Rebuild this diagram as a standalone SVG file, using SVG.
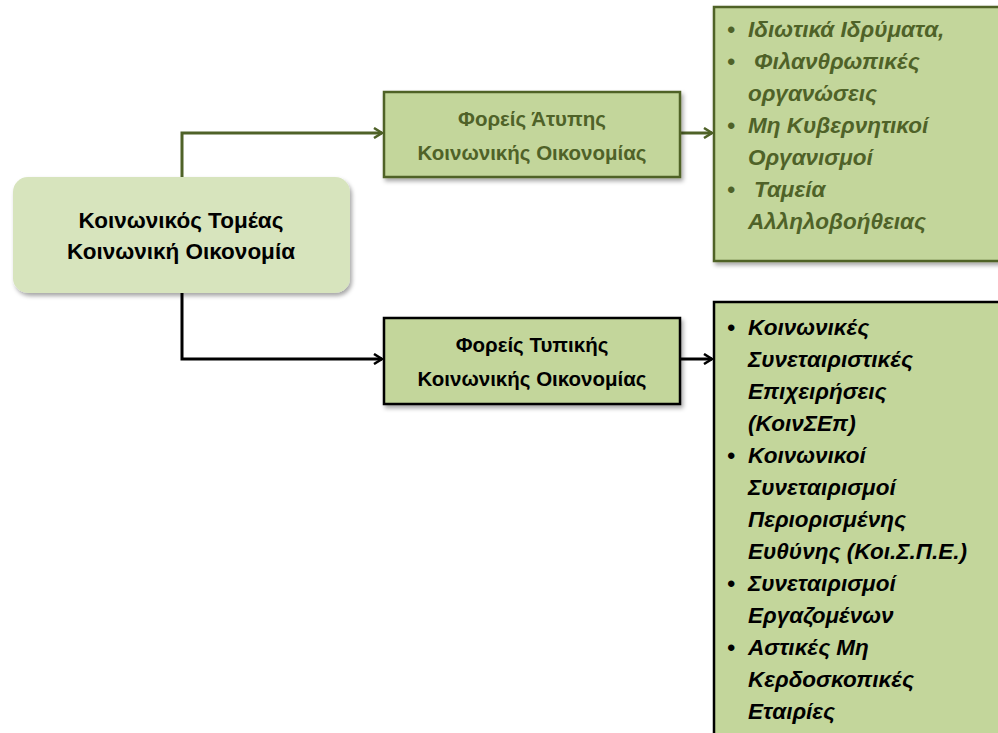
<svg xmlns="http://www.w3.org/2000/svg" width="998" height="733" viewBox="0 0 998 733">
<style>
.t{font-family:"Liberation Sans",Arial,sans-serif;font-weight:bold;}
.c{text-anchor:middle;font-size:20.5px;}
.r{font-size:22.5px;}
.l{font-size:22.5px;font-style:italic;}
.g{fill:#4f6228;}
.k{fill:#000;}
.box{fill:#c3d69b;stroke-width:2.5;}
</style>
<defs>
<filter id="sh" x="-10%" y="-10%" width="125%" height="130%">
<feDropShadow dx="2" dy="3" stdDeviation="2" flood-color="#000" flood-opacity="0.35"/>
</filter>
<marker id="ag" markerWidth="12" markerHeight="12" refX="10" refY="6" orient="auto" markerUnits="userSpaceOnUse">
<polyline points="2,1 10,6 2,11" fill="none" stroke="#4f6228" stroke-width="2.5"/>
</marker>
<marker id="ak" markerWidth="12" markerHeight="12" refX="10" refY="6" orient="auto" markerUnits="userSpaceOnUse">
<polyline points="2,1 10,6 2,11" fill="none" stroke="#000" stroke-width="2.5"/>
</marker>
</defs>
<rect width="998" height="733" fill="#fff"/>
<g id="connectors" fill="none" stroke-width="3">
<polyline points="182,177 182,133 382,133" stroke="#4f6228" marker-end="url(#ag)"/>
<line x1="681" y1="133" x2="712" y2="133" stroke="#4f6228" marker-end="url(#ag)"/>
<polyline points="182,293 182,359 382,359" stroke="#000" marker-end="url(#ak)"/>
<line x1="681" y1="359" x2="712" y2="359" stroke="#000" marker-end="url(#ak)"/>
</g>
<g id="root">
<rect x="13" y="177" width="337" height="116" rx="15" fill="#d7e4bd" filter="url(#sh)"/>
<text class="t c r k" x="181" y="228">Κοινωνικός Τομέας</text>
<text class="t c r k" x="181" y="259">Κοινωνική Οικονομία</text>
</g>
<g id="informal">
<rect class="box" x="384" y="92" width="296" height="85" stroke="#4f6228" filter="url(#sh)"/>
<text class="t c g" x="532" y="126">Φορείς Άτυπης</text>
<text class="t c g" x="532" y="160">Κοινωνικής Οικονομίας</text>
</g>
<g id="informal-list">
<rect class="box" x="714" y="7" width="290" height="254" stroke="#4f6228" filter="url(#sh)"/>
<g class="t l g">
<text x="727" y="37">•</text><text x="748" y="37">Ιδιωτικά Ιδρύματα,</text>
<text x="727" y="69">•</text><text x="754" y="69">Φιλανθρωπικές</text>
<text x="748" y="101">οργανώσεις</text>
<text x="727" y="133">•</text><text x="748" y="133">Μη Κυβερνητικοί</text>
<text x="748" y="165">Οργανισμοί</text>
<text x="727" y="197">•</text><text x="754" y="197">Ταμεία</text>
<text x="748" y="229">Αλληλοβοήθειας</text>
</g>
</g>
<g id="formal">
<rect class="box" x="384" y="318" width="296" height="86" stroke="#000" filter="url(#sh)"/>
<text class="t c k" x="532" y="352">Φορείς Τυπικής</text>
<text class="t c k" x="532" y="386">Κοινωνικής Οικονομίας</text>
</g>
<g id="formal-list">
<rect class="box" x="714" y="302" width="290" height="440" stroke="#000"/>
<g class="t l k">
<text x="727" y="335">•</text><text x="748" y="335">Κοινωνικές</text>
<text x="748" y="367">Συνεταιριστικές</text>
<text x="748" y="399">Επιχειρήσεις</text>
<text x="748" y="431">(ΚοινΣΕπ)</text>
<text x="727" y="463">•</text><text x="748" y="463">Κοινωνικοί</text>
<text x="748" y="495">Συνεταιρισμοί</text>
<text x="748" y="527">Περιορισμένης</text>
<text x="748" y="559">Ευθύνης (Κοι.Σ.Π.Ε.)</text>
<text x="727" y="591">•</text><text x="748" y="591">Συνεταιρισμοί</text>
<text x="748" y="623">Εργαζομένων</text>
<text x="727" y="655">•</text><text x="748" y="655">Αστικές Μη</text>
<text x="748" y="687">Κερδοσκοπικές</text>
<text x="748" y="719">Εταιρίες</text>
</g>
</g>
</svg>
